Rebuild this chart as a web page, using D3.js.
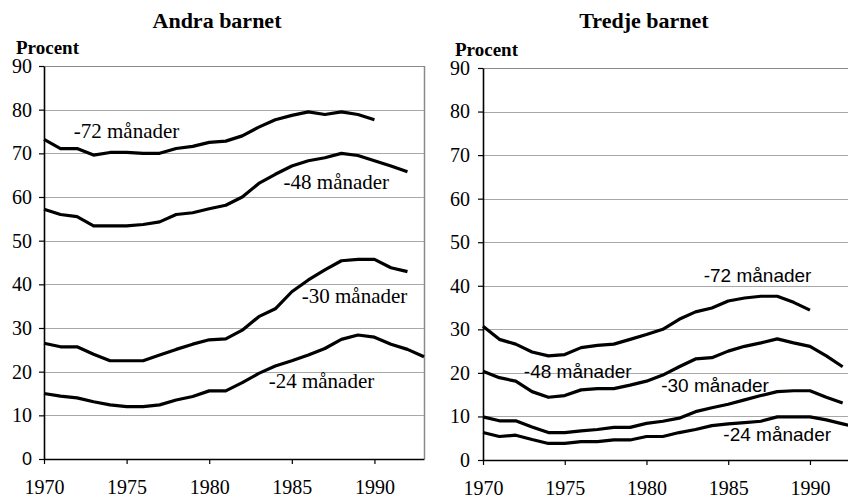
<!DOCTYPE html>
<html>
<head>
<meta charset="utf-8">
<script src="https://cdn.jsdelivr.net/npm/d3@7/dist/d3.min.js"></script>
<style>
  html, body { margin: 0; padding: 0; background: #fff; }
  svg { display: block; }
  .serif { font-family: "Liberation Serif", "Times New Roman", Tinos, serif; }
  .sans { font-family: "Liberation Sans", Arial, Arimo, sans-serif; }
</style>
</head>
<body>
<svg id="chart" width="848" height="499"></svg>
<script>
// Years of observation
const years = [1970, 1971, 1972, 1973, 1974, 1975, 1976, 1977, 1978, 1979, 1980, 1981,
               1982, 1983, 1984, 1985, 1986, 1987, 1988, 1989, 1990, 1991, 1992, 1993];
const xTicks = [1970, 1975, 1980, 1985, 1990];
const yTicks = [0, 10, 20, 30, 40, 50, 60, 70, 80, 90];

// Andra barnet: share (%) having a second child within N months
const andra72 = [73.2, 71.1, 71.1, 69.6, 70.2, 70.2, 70.0, 70.0, 71.1, 71.6, 72.5, 72.8,
                 74.0, 76.0, 77.7, 78.7, 79.5, 78.9, 79.5, 78.9, 77.7];
const andra48 = [57.2, 56.0, 55.5, 53.4, 53.4, 53.4, 53.7, 54.3, 56.0, 56.4, 57.3, 58.1,
                 60.0, 63.1, 65.2, 67.1, 68.3, 69.0, 70.0, 69.5, 68.3, 67.1, 65.8];
const andra30 = [26.5, 25.7, 25.7, 24.0, 22.5, 22.5, 22.5, 23.8, 25.1, 26.3, 27.3, 27.5,
                 29.5, 32.6, 34.4, 38.3, 41.0, 43.3, 45.4, 45.7, 45.7, 43.8, 42.9];
const andra24 = [15.0, 14.4, 14.0, 13.1, 12.4, 12.0, 12.0, 12.4, 13.5, 14.3, 15.6, 15.6,
                 17.5, 19.6, 21.3, 22.5, 23.8, 25.3, 27.4, 28.4, 27.9, 26.3, 25.1, 23.4];

// Tredje barnet: share (%) having a third child within N months
const tredje72 = [30.7, 27.7, 26.6, 24.8, 23.9, 24.2, 25.8, 26.3, 26.6, 27.7, 28.8, 30.0,
                  32.3, 34.0, 34.9, 36.5, 37.2, 37.6, 37.6, 36.2, 34.4];
const tredje48 = [20.4, 18.9, 18.1, 15.7, 14.4, 14.8, 16.1, 16.4, 16.4, 17.2, 18.1, 19.5,
                  21.4, 23.2, 23.5, 25.0, 26.1, 26.9, 27.8, 26.9, 26.1, 23.9, 21.4];
const tredje30 = [9.9, 9.0, 9.0, 7.6, 6.3, 6.3, 6.7, 7.0, 7.5, 7.5, 8.4, 8.9,
                  9.6, 11.1, 12.0, 12.8, 13.8, 14.8, 15.7, 15.9, 15.9, 14.4, 13.1];
const tredje24 = [6.3, 5.4, 5.7, 4.7, 3.8, 3.8, 4.2, 4.2, 4.6, 4.6, 5.4, 5.4,
                  6.3, 7.0, 7.9, 8.3, 8.6, 8.9, 9.9, 9.9, 9.9, 9.2, 8.3, 7.4];

// Series labels, anchored in data units (year, percent) at the text's start/baseline
const andraLabels = [
  { text: "-72 månader", year: 1971.8, value: 73.5 },
  { text: "-48 månader", year: 1984.5, value: 61.8 },
  { text: "-30 månader", year: 1985.6, value: 35.7 },
  { text: "-24 månader", year: 1983.6, value: 16.3 }
];
const tredjeLabels = [
  { text: "-72 månader", year: 1983.5, value: 40.9 },
  { text: "-48 månader", year: 1972.5, value: 18.8 },
  { text: "-30 månader", year: 1980.9, value: 15.6 },
  { text: "-24 månader", year: 1984.7, value: 4.4 }
];

const svg = d3.select("#chart");

function drawPanel(cfg) {
  const x = d3.scaleLinear().domain([1970, 1993]).range([cfg.left, cfg.right]);
  const y = d3.scaleLinear().domain([0, 90]).range([cfg.bottom, cfg.top]);
  const g = svg.append("g");

  // Title and unit
  g.append("text")
    .attr("class", "serif")
    .attr("x", cfg.titleX).attr("y", cfg.titleY)
    .attr("text-anchor", "middle")
    .style("font-weight", "bold").style("font-size", "22px")
    .text(cfg.title);
  g.append("text")
    .attr("class", "serif")
    .attr("x", cfg.unitX).attr("y", cfg.unitY)
    .style("font-weight", "bold").style("font-size", "19px")
    .text("Procent");

  // Horizontal gridlines
  g.append("g").selectAll("line")
    .data(yTicks.filter(d => d > 0))
    .join("line")
    .attr("x1", x(1970)).attr("x2", x(1993))
    .attr("y1", d => Math.round(y(d)) + 0.5).attr("y2", d => Math.round(y(d)) + 0.5)
    .attr("stroke", d => d === 90 ? "#8a8a8a" : "#a8a8a8")
    .attr("stroke-width", 1.2);

  // Right border of the plot area
  g.append("line")
    .attr("x1", x(1993) + 0.5).attr("x2", x(1993) + 0.5)
    .attr("y1", y(90)).attr("y2", y(0))
    .attr("stroke", "#8a8a8a").attr("stroke-width", 1.5);

  // Series lines
  const line = d3.line()
    .x((d, i) => x(years[i]))
    .y(d => y(d));
  g.append("g").selectAll("path")
    .data(cfg.series)
    .join("path")
    .attr("d", d => line(d))
    .attr("fill", "none")
    .attr("stroke", "#000")
    .attr("stroke-width", 3.2)
    .attr("stroke-linejoin", "round");

  // Y axis
  const yAxis = g.append("g")
    .attr("transform", `translate(${x(1970)},0)`)
    .call(d3.axisLeft(y).tickValues(yTicks).tickSize(5).tickPadding(cfg.yPad).tickSizeOuter(0));
  yAxis.attr("font-family", null).attr("font-size", null);
  yAxis.select(".domain").attr("stroke", "#000").attr("stroke-width", 1.6);
  yAxis.selectAll(".tick line").attr("stroke", "#000").attr("stroke-width", 1.2);
  yAxis.selectAll(".tick text")
    .attr("class", d => (cfg.sansZero && d === 0) ? "sans" : "serif")
    .style("font-size", d => (cfg.sansZero && d === 0) ? "18px" : "20px")
    .attr("fill", "#000");

  // X axis
  const xAxis = g.append("g")
    .attr("transform", `translate(0,${y(0)})`)
    .call(d3.axisBottom(x).tickValues(xTicks).tickSize(5).tickFormat(d3.format("d")).tickSizeOuter(0));
  xAxis.attr("font-family", null).attr("font-size", null);
  xAxis.select(".domain").attr("stroke", "#000").attr("stroke-width", 1.6);
  xAxis.selectAll(".tick line").attr("stroke", "#000").attr("stroke-width", 1.2);
  xAxis.selectAll(".tick text")
    .attr("class", "serif")
    .attr("y", 35).attr("dy", 0)
    .style("font-size", "20px")
    .attr("fill", "#000");

  // Series labels
  g.append("g").selectAll("text")
    .data(cfg.labels)
    .join("text")
    .attr("class", cfg.labelClass)
    .attr("x", d => x(d.year))
    .attr("y", d => y(d.value))
    .style("font-size", cfg.labelSize)
    .text(d => d.text);
}

drawPanel({
  title: "Andra barnet", titleX: 217, titleY: 28,
  unitX: 16, unitY: 54,
  left: 44, right: 424, top: 66, bottom: 459,
  yPad: 7, sansZero: true,
  series: [andra72, andra48, andra30, andra24],
  labels: andraLabels, labelClass: "serif", labelSize: "21px"
});

drawPanel({
  title: "Tredje barnet", titleX: 644, titleY: 28,
  unitX: 455, unitY: 56,
  left: 483, right: 859, top: 68, bottom: 460,
  yPad: 8, sansZero: false,
  series: [tredje72, tredje48, tredje30, tredje24],
  labels: tredjeLabels, labelClass: "sans", labelSize: "19px"
});
</script>
</body>
</html>
